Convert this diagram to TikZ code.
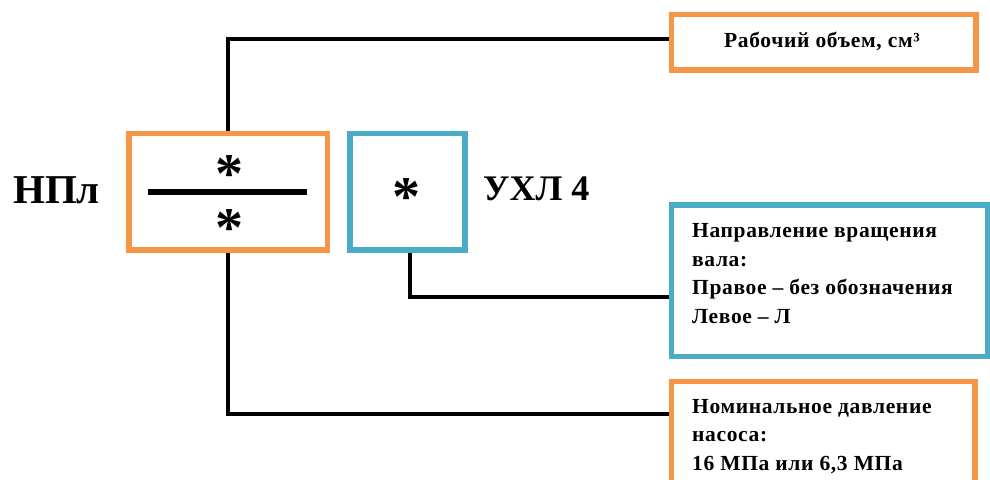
\documentclass[tikz,border=0pt]{standalone}
\usepackage{fontspec}
\setmainfont{Liberation Serif}
\newfontfamily\boxfont[LetterSpace=3]{Liberation Serif}
\definecolor{boxorange}{HTML}{F79646}
\definecolor{boxblue}{HTML}{4BACC6}
\begin{document}
\begin{tikzpicture}[x=1pt,y=-1pt,
  obox/.style={draw=boxorange,line width=5.5pt,rectangle,inner sep=0pt},
  bbox/.style={draw=boxblue,line width=5.5pt,rectangle,inner sep=0pt},
  conn/.style={draw=black,line width=4pt},
  boxtext/.style={font=\boxfont\bfseries\fontsize{21.5}{28.5}\selectfont,inner sep=0pt,anchor=base west,align=left},
  star/.style={font=\bfseries\fontsize{56}{56}\selectfont,inner sep=0pt,anchor=north,text height=27pt,text depth=0pt},
  big/.style={font=\bfseries\fontsize{41}{41}\selectfont,inner sep=0pt,anchor=base west}]
\useasboundingbox[fill=white] (0,0) rectangle (990,479);
% boxes
\node[obox,minimum width=198.5pt,minimum height=116.5pt] (main) at (228.25,191.75) {};
\node[bbox,minimum width=115pt,minimum height=116.5pt] (code) at (407.5,191.75) {};
\node[obox,minimum width=304.5pt,minimum height=55.5pt] (topbox) at (823.75,42.25) {};
\node[bbox,minimum width=316.5pt,minimum height=151.5pt] (rbox) at (829.75,280.75) {};
\node[obox,minimum width=303.5pt,minimum height=118.5pt] (botbox) at (823.25,440.75) {};
% divider
\draw[line width=6pt] ([xshift=-80pt]main.center) -- ([xshift=79pt]main.center);
% asterisks
\node[star] (s1) at (229,165) {*};
\node[star] (s2) at (229,219) {*};
\node[star] (s3) at (406,188) {*};
% labels
\node[big] (npl) at (13,203) {НПл};
\node[big,font=\bfseries\fontsize{36}{36}\selectfont] (uhl) at (483,200) {УХЛ 4};
% box texts
\node[font=\boxfont\bfseries\fontsize{21.5}{21.5}\selectfont,inner sep=0pt,anchor=base] (t1) at (822,47) {Рабочий объем, см³};
\node[boxtext] (t2) at (692,323) {Направление вращения\\вала:\\Правое – без обозначения\\Левое – Л};
\node[boxtext] (t3) at (692,470) {Номинальное давление\\насоса:\\16 МПа или 6,3 МПа};
% connectors
\draw[conn] (main.north) |- ([yshift=3pt]topbox.west);
\draw[conn] ([xshift=2.5pt]code.south) |- ([yshift=-15.75pt]rbox.west);
\draw[conn] (main.south) |- ([yshift=27.25pt]botbox.west);
\end{tikzpicture}
\end{document}
